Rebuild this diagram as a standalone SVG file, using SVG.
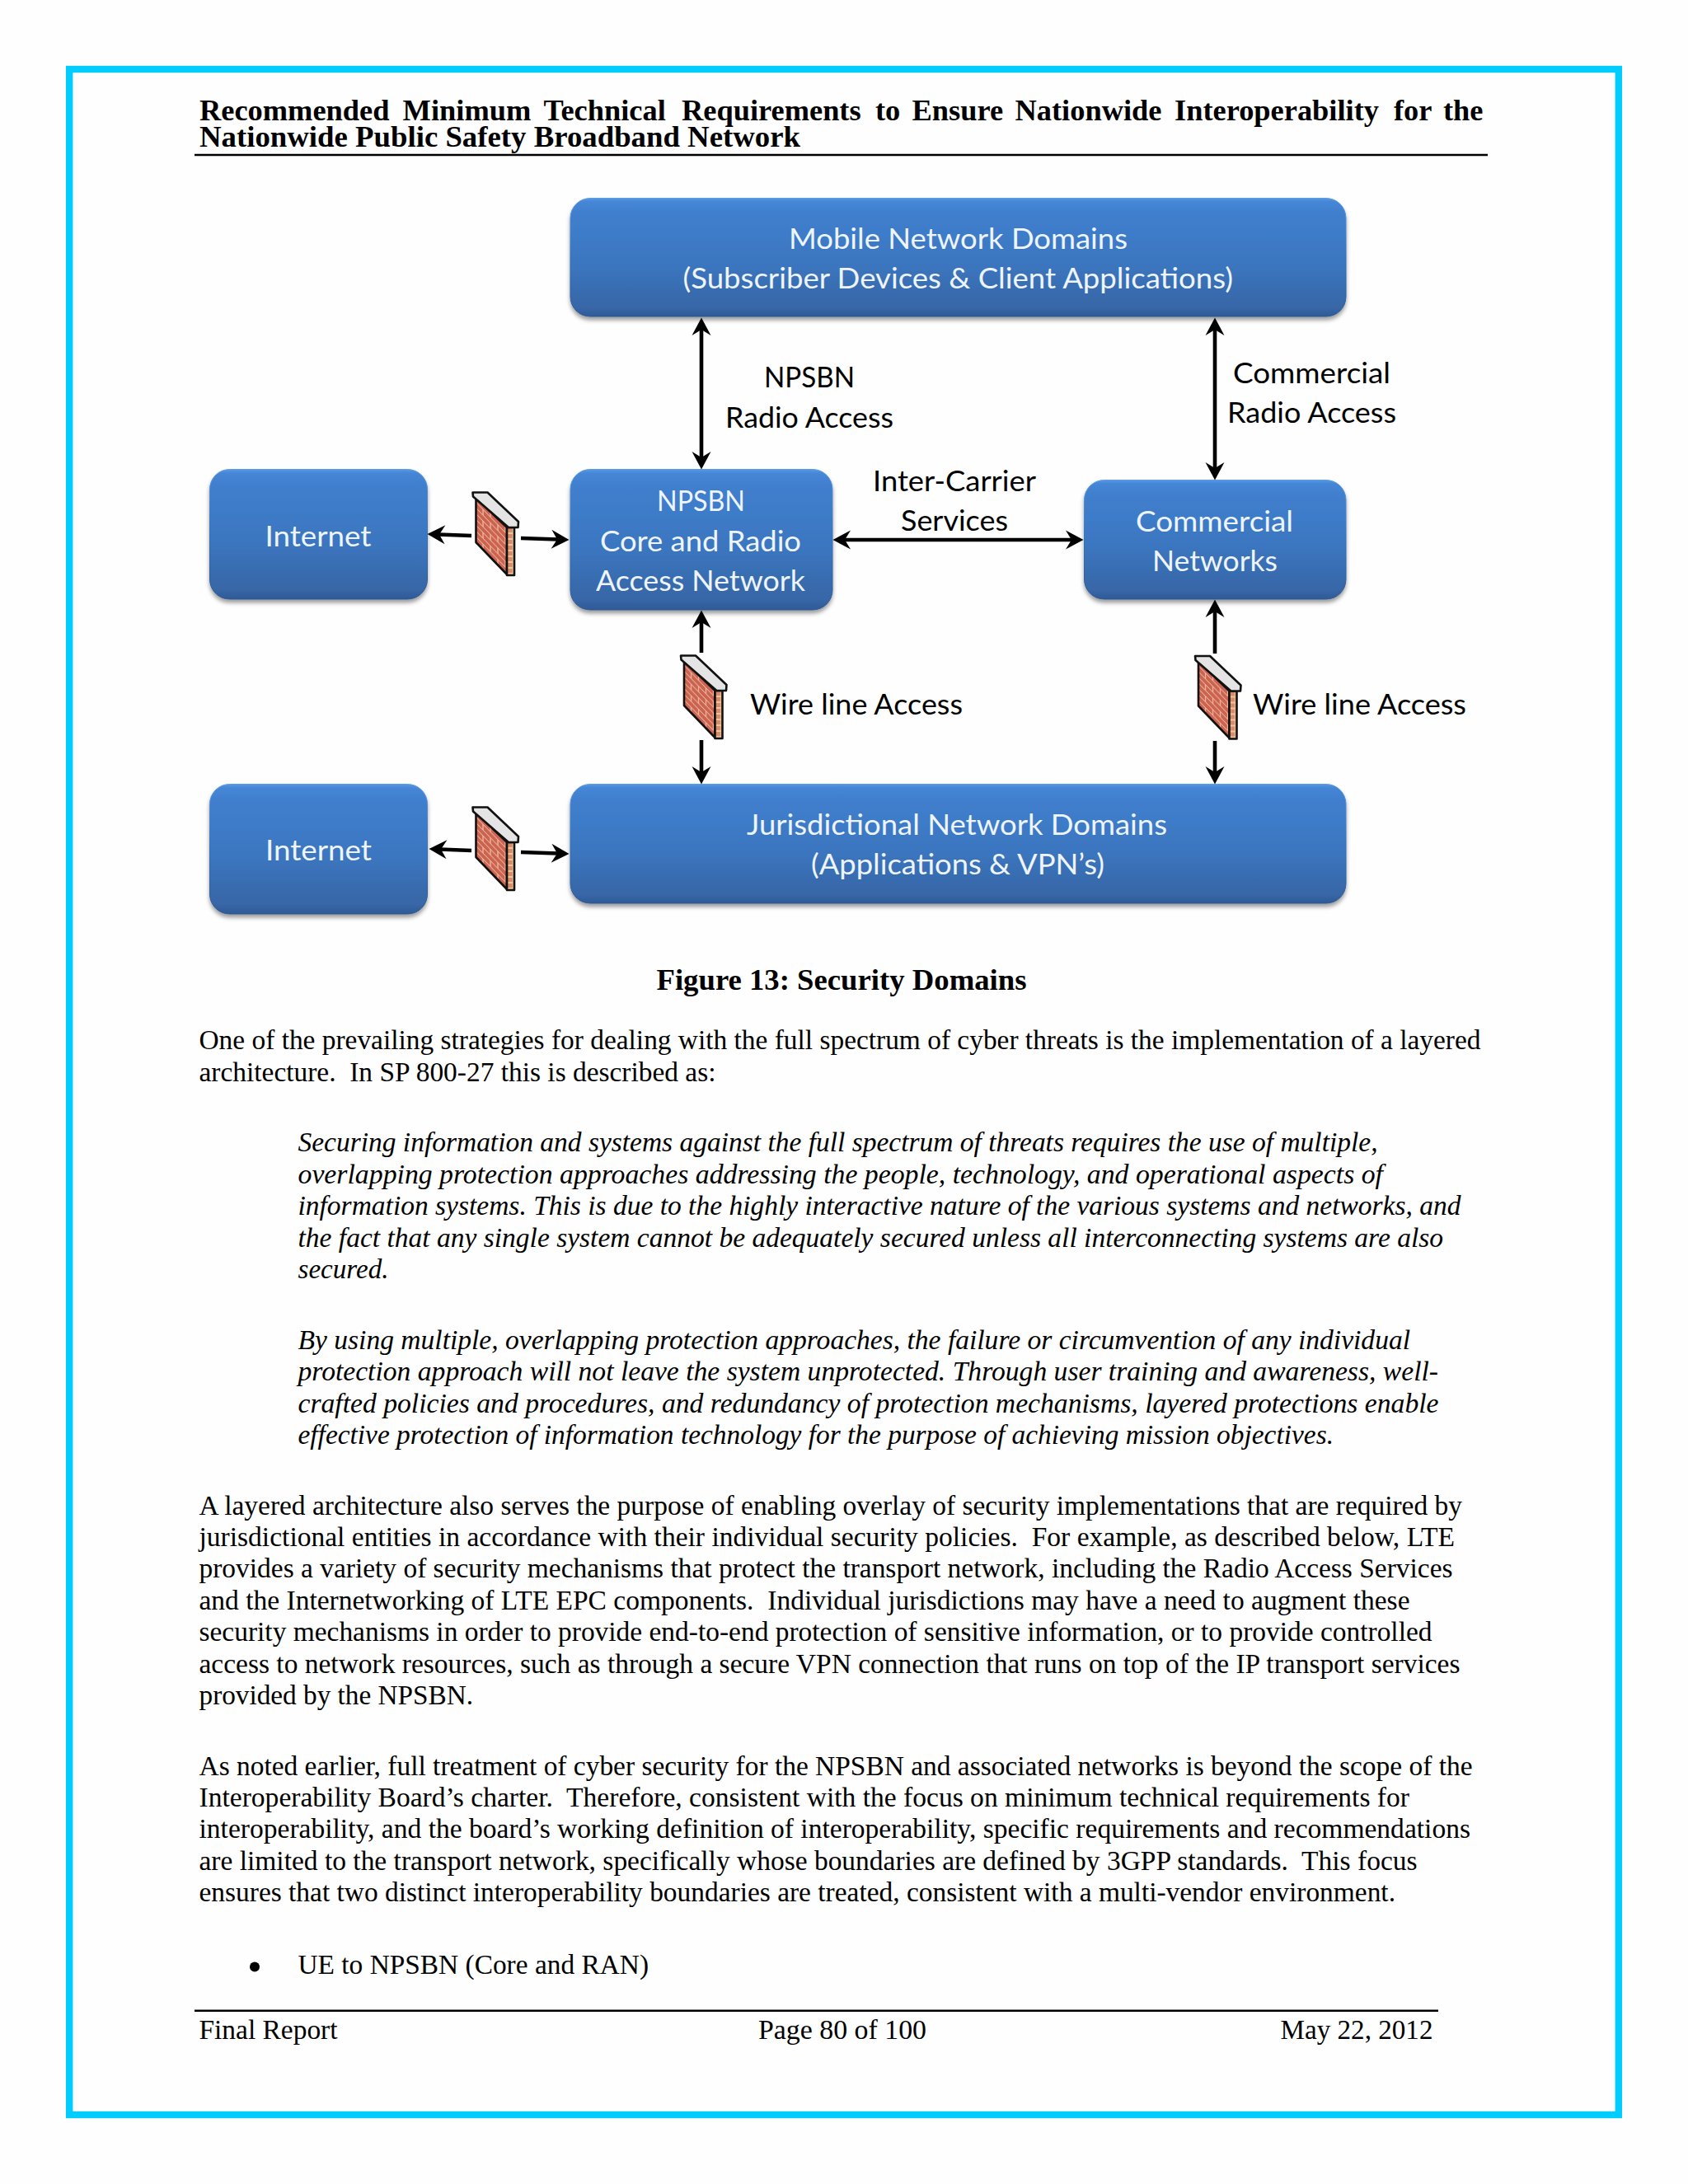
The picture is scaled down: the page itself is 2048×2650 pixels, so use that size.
<svg xmlns="http://www.w3.org/2000/svg" width="2048" height="2650" viewBox="0 0 2048 2650">
<style>
.s{font-family:"Liberation Serif","Times New Roman",serif;font-size:33.7px;fill:#000;white-space:pre}
.b{font-weight:700;font-size:36.4px}
.i{font-style:italic}
.n{font-family:Lato,"Open Sans",sans-serif;font-size:34px;fill:#EEF4FB;text-anchor:start}
.l{font-family:Lato,"Open Sans",sans-serif;font-size:34px;fill:#000}
.box{fill:url(#nodeFill);stroke:url(#nodeEdge);stroke-width:1;filter:url(#shadow)}
.arrow{fill:none;stroke:#000;stroke-width:4.6}
.one{marker-end:url(#head)}
.two{marker-start:url(#headStart);marker-end:url(#head)}
.rule{stroke:#000;stroke-width:2.6}
.fwo{stroke:#111;stroke-width:2.6;stroke-linejoin:round}
</style>
<defs>
<linearGradient id="nodeFill" x1="0" y1="0" x2="0" y2="1">
<stop offset="0" stop-color="#5898E2"/>
<stop offset="0.03" stop-color="#4686D6"/>
<stop offset="0.12" stop-color="#407FCE"/>
<stop offset="0.55" stop-color="#3B76C0"/>
<stop offset="0.93" stop-color="#3766A6"/>
<stop offset="1" stop-color="#2E5A96"/>
</linearGradient>
<linearGradient id="nodeEdge" x1="0" y1="0" x2="0" y2="1">
<stop offset="0" stop-color="#5C9CE4"/>
<stop offset="0.5" stop-color="#3872BA"/>
<stop offset="1" stop-color="#2D5890"/>
</linearGradient>
<filter id="shadow" x="-5%" y="-5%" width="110%" height="120%">
<feDropShadow dx="0" dy="4" stdDeviation="2.5" flood-color="#000" flood-opacity="0.38"/>
</filter>
<marker id="head" markerUnits="userSpaceOnUse" markerWidth="24" markerHeight="26" viewBox="0 -13 22 26" refX="15" refY="0" orient="auto">
<path d="M21.5,0 L0,-11.5 L7,0 L0,11.5 Z" fill="#000"/>
</marker>
<marker id="headStart" markerUnits="userSpaceOnUse" markerWidth="24" markerHeight="26" viewBox="0 -13 22 26" refX="15" refY="0" orient="auto-start-reverse">
<path d="M21.5,0 L0,-11.5 L7,0 L0,11.5 Z" fill="#000"/>
</marker>
<pattern id="brick" patternUnits="userSpaceOnUse" width="18" height="14" patternTransform="skewY(46)">
<rect width="18" height="14" fill="#CC6250"/>
<path d="M0,0.7H18M0,7.7H18M4,0.7V7.7M13,7.7V14" stroke="#EDB9A0" stroke-width="1.3" fill="none"/>
</pattern>
<pattern id="brickSide" patternUnits="userSpaceOnUse" width="9" height="7">
<rect width="9" height="7" fill="#D98A68"/>
<path d="M0,1H9M4.5,1V7" stroke="#F5D8A8" stroke-width="1.4" fill="none"/>
</pattern>
<g id="fw">
<polygon class="fwo" points="4.5,7 4.5,61 42,100 42,43" fill="url(#brick)"/>
<polygon class="fwo" points="42,43 51,43 51,101 42,101" fill="url(#brickSide)"/>
<polygon class="fwo" points="0.5,0.5 18.5,0.5 56,36 55.5,43 44,43 1,5.5" fill="#E4E4E4"/>
</g>
</defs>
<rect width="2048" height="2650" fill="#FEFEFE"/>
<rect id="frame" x="84.2" y="84" width="1879.6" height="2482" fill="none" stroke="#00CCFF" stroke-width="8.4"/>

<g id="header">
<text class="s b" y="145.5"><tspan x="242">Recommended </tspan><tspan x="488.6">Minimum </tspan><tspan x="659.5">Technical </tspan><tspan x="827">Requirements </tspan><tspan x="1062">to </tspan><tspan x="1106.5">Ensure </tspan><tspan x="1231.5">Nationwide </tspan><tspan x="1425">Interoperability </tspan><tspan x="1691">for </tspan><tspan x="1751">the</tspan></text>
<text class="s b" x="242" y="178" textLength="729" lengthAdjust="spacingAndGlyphs">Nationwide Public Safety Broadband Network</text>
<line class="rule" x1="236" y1="188" x2="1805" y2="188"/>
</g>

<g id="node-mobile">
<rect class="box" x="692" y="240.5" width="941" height="143.5" rx="24"/>
<text class="n" x="957" y="302" textLength="411" lengthAdjust="spacingAndGlyphs">Mobile Network Domains</text>
<text class="n" x="828.5" y="350" textLength="667.5" lengthAdjust="spacingAndGlyphs">(Subscriber Devices &amp; Client Applications)</text>
</g>
<g id="node-internet-1">
<rect class="box" x="254.5" y="569.5" width="264" height="157.5" rx="24"/>
<text class="n" x="321.5" y="663" textLength="129" lengthAdjust="spacingAndGlyphs">Internet</text>
</g>
<g id="node-npsbn">
<rect class="box" x="692" y="569.5" width="318" height="170.5" rx="24"/>
<text class="n" x="797" y="620" textLength="107" lengthAdjust="spacingAndGlyphs">NPSBN</text>
<text class="n" x="728" y="669" textLength="244" lengthAdjust="spacingAndGlyphs">Core and Radio</text>
<text class="n" x="723" y="717" textLength="254" lengthAdjust="spacingAndGlyphs">Access Network</text>
</g>
<g id="node-commercial">
<rect class="box" x="1315.5" y="582.5" width="317.5" height="144.5" rx="24"/>
<text class="n" x="1378" y="645" textLength="191" lengthAdjust="spacingAndGlyphs">Commercial</text>
<text class="n" x="1398" y="693" textLength="152" lengthAdjust="spacingAndGlyphs">Networks</text>
</g>
<g id="node-internet-2">
<rect class="box" x="254.5" y="951.5" width="264" height="157.5" rx="24"/>
<text class="n" x="322" y="1044" textLength="129" lengthAdjust="spacingAndGlyphs">Internet</text>
</g>
<g id="node-jurisdictional">
<rect class="box" x="692" y="951.5" width="941" height="144.5" rx="24"/>
<text class="n" x="906" y="1012.5" textLength="510" lengthAdjust="spacingAndGlyphs">Jurisdictional Network Domains</text>
<text class="n" x="984" y="1061" textLength="356" lengthAdjust="spacingAndGlyphs">(Applications &amp; VPN’s)</text>
</g>
<g id="firewall-1" transform="translate(573,597)"><use href="#fw"/></g>
<g id="firewall-2" transform="translate(825.5,795)"><use href="#fw"/></g>
<g id="firewall-3" transform="translate(1449.5,795.5)"><use href="#fw"/></g>
<g id="firewall-4" transform="translate(573,979)"><use href="#fw"/></g>

<g id="connectors">
<line class="arrow two" x1="851" y1="392" x2="851" y2="563"/>
<line class="arrow two" x1="1474" y1="392" x2="1474" y2="576"/>
<line class="arrow two" x1="1017" y1="655" x2="1308" y2="655"/>
<line class="arrow one" x1="572" y1="650" x2="525" y2="648.2"/>
<line class="arrow one" x1="632" y1="653" x2="684" y2="654.8"/>
<line class="arrow one" x1="851" y1="792" x2="851" y2="747"/>
<line class="arrow one" x1="851" y1="898" x2="851" y2="945"/>
<line class="arrow one" x1="1474" y1="793" x2="1474" y2="734"/>
<line class="arrow one" x1="1474" y1="899" x2="1474" y2="945"/>
<line class="arrow one" x1="572" y1="1032" x2="527" y2="1030.2"/>
<line class="arrow one" x1="632" y1="1034" x2="684" y2="1035.8"/>
</g>

<g id="connector-labels">
<text class="l" x="927" y="469.5" textLength="110" lengthAdjust="spacingAndGlyphs">NPSBN</text>
<text class="l" x="880" y="518.5" textLength="204" lengthAdjust="spacingAndGlyphs">Radio Access</text>
<text class="l" x="1496" y="465" textLength="191" lengthAdjust="spacingAndGlyphs">Commercial</text>
<text class="l" x="1489" y="513" textLength="205" lengthAdjust="spacingAndGlyphs">Radio Access</text>
<text class="l" x="1059" y="596" textLength="198" lengthAdjust="spacingAndGlyphs">Inter-Carrier</text>
<text class="l" x="1093" y="644" textLength="130" lengthAdjust="spacingAndGlyphs">Services</text>
<text class="l" x="910" y="867" textLength="258" lengthAdjust="spacingAndGlyphs">Wire line Access</text>
<text class="l" x="1520" y="867" textLength="259" lengthAdjust="spacingAndGlyphs">Wire line Access</text>
</g>

<g id="page-text">
<text class="s b" x="796.5" y="1201" textLength="449" lengthAdjust="spacingAndGlyphs">Figure 13: Security Domains</text>
<text class="s" x="241.5" y="1273" textLength="1555" lengthAdjust="spacingAndGlyphs">One of the prevailing strategies for dealing with the full spectrum of cyber threats is the implementation of a layered</text>
<text class="s" x="241.5" y="1311.5" textLength="627" lengthAdjust="spacingAndGlyphs">architecture.  In SP 800-27 this is described as:</text>
<text class="s i" x="361.5" y="1397" textLength="1310" lengthAdjust="spacingAndGlyphs">Securing information and systems against the full spectrum of threats requires the use of multiple,</text>
<text class="s i" x="361.5" y="1435.7" textLength="1316.5" lengthAdjust="spacingAndGlyphs">overlapping protection approaches addressing the people, technology, and operational aspects of</text>
<text class="s i" x="361.5" y="1474.3" textLength="1411" lengthAdjust="spacingAndGlyphs">information systems. This is due to the highly interactive nature of the various systems and networks, and</text>
<text class="s i" x="361.5" y="1512.9" textLength="1389.5" lengthAdjust="spacingAndGlyphs">the fact that any single system cannot be adequately secured unless all interconnecting systems are also</text>
<text class="s i" x="361.5" y="1551" textLength="110" lengthAdjust="spacingAndGlyphs">secured.</text>
<text class="s i" x="361.5" y="1637" textLength="1349.5" lengthAdjust="spacingAndGlyphs">By using multiple, overlapping protection approaches, the failure or circumvention of any individual</text>
<text class="s i" x="361.5" y="1675" textLength="1383.5" lengthAdjust="spacingAndGlyphs">protection approach will not leave the system unprotected. Through user training and awareness, well-</text>
<text class="s i" x="361.5" y="1713.6" textLength="1384" lengthAdjust="spacingAndGlyphs">crafted policies and procedures, and redundancy of protection mechanisms, layered protections enable</text>
<text class="s i" x="361.5" y="1751.8" textLength="1256.5" lengthAdjust="spacingAndGlyphs">effective protection of information technology for the purpose of achieving mission objectives.</text>
<text class="s" x="241.5" y="1838" textLength="1532.5" lengthAdjust="spacingAndGlyphs">A layered architecture also serves the purpose of enabling overlay of security implementations that are required by</text>
<text class="s" x="241.5" y="1875.7" textLength="1523.5" lengthAdjust="spacingAndGlyphs">jurisdictional entities in accordance with their individual security policies.  For example, as described below, LTE</text>
<text class="s" x="241.5" y="1914" textLength="1521" lengthAdjust="spacingAndGlyphs">provides a variety of security mechanisms that protect the transport network, including the Radio Access Services</text>
<text class="s" x="241.5" y="1952.5" textLength="1469" lengthAdjust="spacingAndGlyphs">and the Internetworking of LTE EPC components.  Individual jurisdictions may have a need to augment these</text>
<text class="s" x="241.5" y="1991" textLength="1496" lengthAdjust="spacingAndGlyphs">security mechanisms in order to provide end-to-end protection of sensitive information, or to provide controlled</text>
<text class="s" x="241.5" y="2029.5" textLength="1530" lengthAdjust="spacingAndGlyphs">access to network resources, such as through a secure VPN connection that runs on top of the IP transport services</text>
<text class="s" x="241.5" y="2068" textLength="332.5" lengthAdjust="spacingAndGlyphs">provided by the NPSBN.</text>
<text class="s" x="241.5" y="2154" textLength="1545" lengthAdjust="spacingAndGlyphs">As noted earlier, full treatment of cyber security for the NPSBN and associated networks is beyond the scope of the</text>
<text class="s" x="241.5" y="2192" textLength="1468.5" lengthAdjust="spacingAndGlyphs">Interoperability Board’s charter.  Therefore, consistent with the focus on minimum technical requirements for</text>
<text class="s" x="241.5" y="2230" textLength="1542.5" lengthAdjust="spacingAndGlyphs">interoperability, and the board’s working definition of interoperability, specific requirements and recommendations</text>
<text class="s" x="241.5" y="2268.6" textLength="1478" lengthAdjust="spacingAndGlyphs">are limited to the transport network, specifically whose boundaries are defined by 3GPP standards.  This focus</text>
<text class="s" x="241.5" y="2307" textLength="1451.5" lengthAdjust="spacingAndGlyphs">ensures that two distinct interoperability boundaries are treated, consistent with a multi-vendor environment.</text>
<circle cx="309" cy="2386.5" r="6"/>
<text class="s" x="361.5" y="2395" textLength="425.5" lengthAdjust="spacingAndGlyphs">UE to NPSBN (Core and RAN)</text>
</g>

<g id="footer">
<line class="rule" x1="236" y1="2439.7" x2="1745" y2="2439.7"/>
<text class="s" x="241.5" y="2474" textLength="168" lengthAdjust="spacingAndGlyphs">Final Report</text>
<text class="s" x="920" y="2474" textLength="204" lengthAdjust="spacingAndGlyphs">Page 80 of 100</text>
<text class="s" x="1553.5" y="2474" textLength="185" lengthAdjust="spacingAndGlyphs">May 22, 2012</text>
</g>
</svg>
